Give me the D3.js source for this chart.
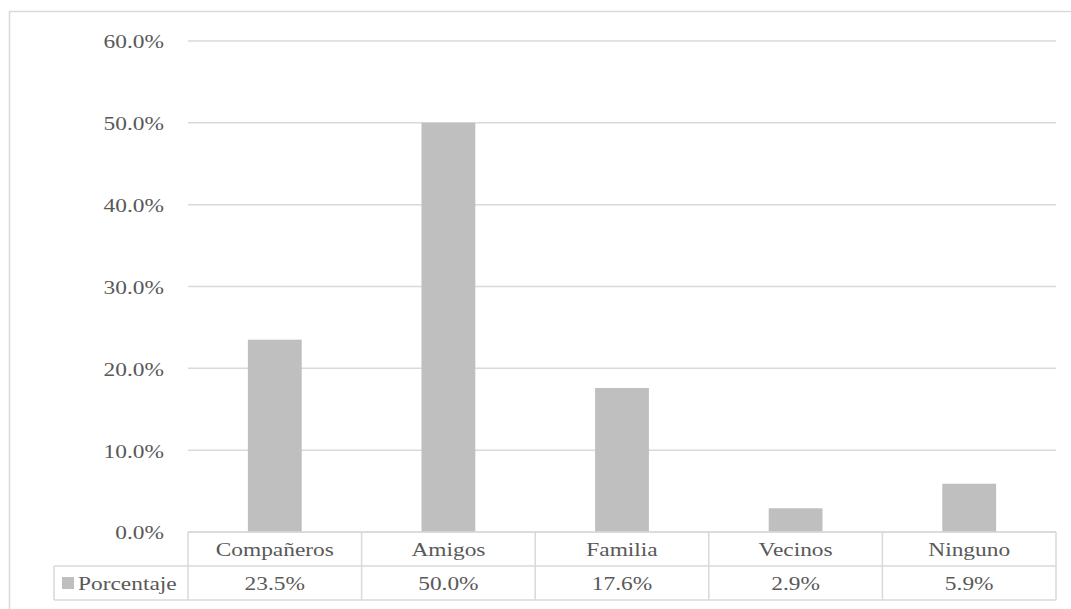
<!DOCTYPE html>
<html><head><meta charset="utf-8">
<script src="https://cdn.jsdelivr.net/npm/d3@7"></script>
<style>body{margin:0;background:#fff}svg{display:block}
svg text{font-family:"Liberation Serif","Times New Roman",Tinos,serif;}</style>
</head><body>
<script>
const categories = ["Compañeros","Amigos","Familia","Vecinos","Ninguno"];
const values = [23.5, 50.0, 17.6, 2.9, 5.9];
const seriesName = "Porcentaje";
const yTicks = [0,10,20,30,40,50,60];

(function(){
const W=1071,H=609;
const svg=d3.select("body").append("svg").attr("width",W).attr("height",H);
const txt="#595959", grid="#d9d9d9", barC="#bfbfbf";
const FS=19.5, SX=1.2;

svg.append("rect").attr("x",9.5).attr("y",11.5).attr("width",1080).attr("height",620)
  .attr("fill","#fff").attr("stroke",grid).attr("stroke-width",1.5);

const pl=188,pr=1056,pt=41,pb=532;
const x=d3.scaleBand().domain(categories).range([pl,pr]).paddingInner(0).paddingOuter(0);
const y=d3.scaleLinear().domain([0,60]).range([pb,pt]);

svg.append("g").selectAll("line").data(yTicks).join("line")
  .attr("x1",pl).attr("x2",pr).attr("y1",d=>y(d)).attr("y2",d=>y(d))
  .attr("stroke",grid).attr("stroke-width",1.5);

function label(g,tx,ty,s,anchor){
  const gg=g.append("g").attr("transform",`translate(${tx},${ty}) scale(${SX},1)`);
  gg.append("text").attr("text-anchor",anchor).attr("y",FS*0.33)
    .style("font-size",FS+"px").attr("fill",txt).text(s);
}
const yl=svg.append("g");
yTicks.forEach(t=>label(yl,164,y(t)+1,t.toFixed(1)+"%","end"));

const bw=x.bandwidth()*0.31;
svg.append("g").selectAll("rect").data(categories).join("rect")
  .attr("x",(d)=>x(d)+x.bandwidth()/2-bw/2)
  .attr("width",bw)
  .attr("y",(d,i)=>y(values[i]))
  .attr("height",(d,i)=>y(0)-y(values[i]))
  .attr("fill",barC);

svg.append("line").attr("x1",pl).attr("x2",pr).attr("y1",y(0)).attr("y2",y(0))
  .attr("stroke",grid).attr("stroke-width",1.5);

const r1=pb, r2=566, r3=600, hl=54;
const tg=svg.append("g").attr("stroke",grid).attr("stroke-width",1.5);
tg.append("line").attr("x1",hl).attr("x2",pr).attr("y1",r2).attr("y2",r2);
tg.append("line").attr("x1",hl).attr("x2",pr).attr("y1",r3).attr("y2",r3);
tg.append("line").attr("x1",hl).attr("x2",hl).attr("y1",r2).attr("y2",r3);
const edges=categories.map(c=>x(c)).concat([pr]);
edges.forEach(e=>tg.append("line").attr("x1",e).attr("x2",e).attr("y1",r1).attr("y2",r3));

const tl=svg.append("g");
categories.forEach((c,i)=>{
  const cx=x(c)+x.bandwidth()/2;
  label(tl,cx,(r1+r2)/2+1,c,"middle");
  label(tl,cx,(r2+r3)/2+1,values[i].toFixed(1)+"%","middle");
});
svg.append("rect").attr("x",62).attr("y",577).attr("width",12).attr("height",12).attr("fill",barC);
label(tl,78,(r2+r3)/2+1,seriesName,"start");
})();
</script>
</body></html>
